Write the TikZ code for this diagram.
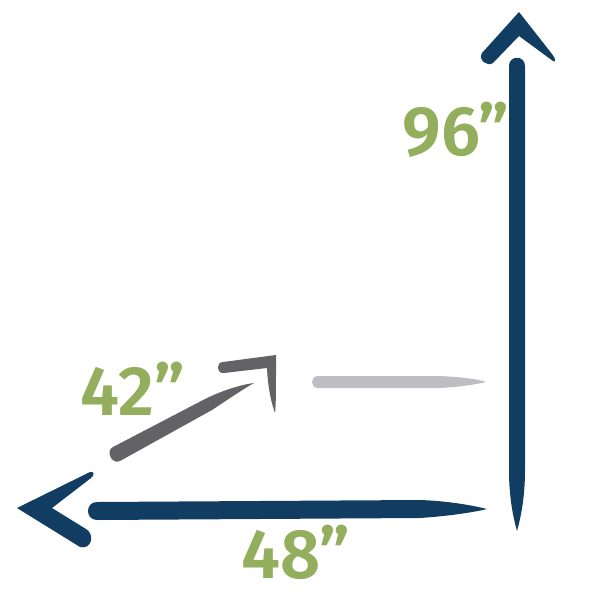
\documentclass[tikz,border=0pt]{standalone}
\usepackage{fontspec}
\newfontfamily\labelfont{Fira Sans SemiBold}
\definecolor{navy}{RGB}{18,61,99}
\definecolor{darkgray}{RGB}{99,99,103}
\definecolor{lightgray}{RGB}{190,190,194}
\definecolor{olive}{RGB}{147,174,92}
\tikzset{
  dimlabel/.style={text=olive, font=\labelfont\fontsize{70}{70}\selectfont, inner sep=0pt, anchor=base}
}
\begin{document}
\begin{tikzpicture}[x=1pt,y=-1pt]
\useasboundingbox (0,0) rectangle (600,600);
% vertical arrow shaft
\fill[navy] (509,66) .. controls (509,55) and (525,55) .. (525,66) -- (525,470)
  .. controls (525,500) and (520,520) .. (517,531)
  .. controls (514,520) and (509,500) .. (509,470) -- cycle;
% vertical arrow head
\fill[navy] (519,12) -- (552,54) .. controls (556,59) and (556,63) .. (553,61)
  -- (519,36) -- (493,63) .. controls (487,67) and (478,60) .. (482,53) -- cycle;
% horizontal arrow shaft
\fill[navy] (97,502) .. controls (85,502) and (85,520) .. (97,520) -- (420,518)
  .. controls (450,516) and (475,512) .. (487,509)
  .. controls (475,506) and (450,501) .. (420,500) -- cycle;
% horizontal arrow head
\fill[navy] (17,508) -- (90,472) .. controls (94,471) and (95,475) .. (91,478)
  -- (52,508) -- (86,529) .. controls (95,534) and (92,550) .. (80,547) -- cycle;
% diagonal gray shaft
\fill[darkgray] (113,447) -- (205,399) .. controls (225,389) and (245,384) .. (254,383)
  .. controls (245,388) and (230,398) .. (212,410) -- (120,461)
  .. controls (112,465) and (105,451) .. (113,447) -- cycle;
% diagonal gray head
\fill[darkgray] (223,362) -- (276,355) -- (276,365)
  .. controls (276,390) and (276,405) .. (275,413)
  .. controls (272,405) and (268,390) .. (267,368)
  -- (224,373) .. controls (216,374) and (216,362) .. (223,362) -- cycle;
% light gray line
\fill[lightgray] (318,376) -- (440,376) .. controls (460,377) and (478,379) .. (486,382)
  .. controls (478,384) and (460,387) .. (440,388) -- (318,388)
  .. controls (310,388) and (310,376) .. (318,376) -- cycle;
% labels
\node[dimlabel] (h) at (456,155) {96”};
\node[dimlabel] (w) at (296,578) {48”};
\node[dimlabel] (d) at (133,415) {42”};
\end{tikzpicture}
\end{document}
